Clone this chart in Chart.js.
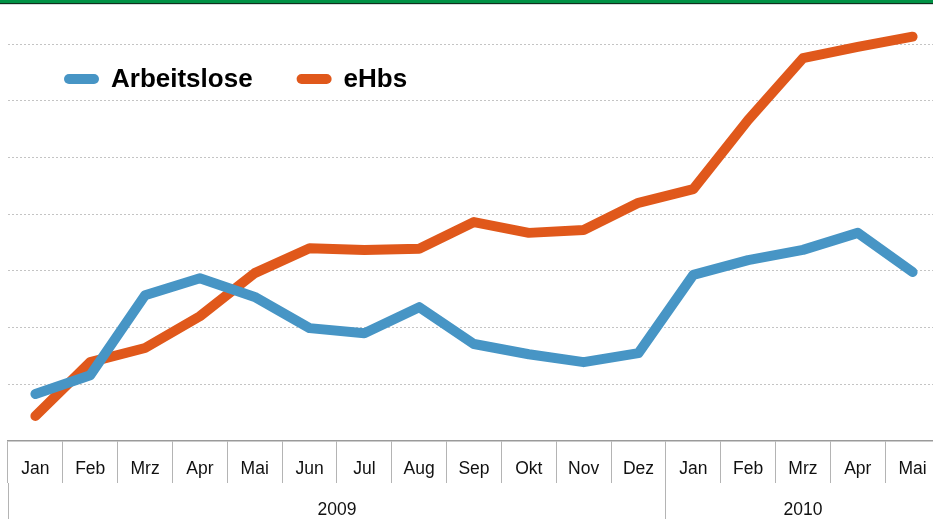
<!DOCTYPE html>
<html>
<head>
<meta charset="utf-8">
<script src="https://cdn.jsdelivr.net/npm/chart.js@4"></script>
<style>
  html, body { margin: 0; padding: 0; background: #fff; overflow: hidden; }
  #topbar {
    position: absolute; left: 0; top: 0; width: 933px; height: 3px;
    background: #009245; border-bottom: 1px solid #10301c;
    box-shadow: 0 1px 0 #d4dcdc; z-index: 2;
  }
  #wrap { position: absolute; left: 0; top: 0; width: 940px; height: 519px; }
</style>
</head>
<body>
<div id="topbar"></div>
<div id="wrap"><canvas id="chart"></canvas></div>
<script>
const months = ['Jan','Feb','Mrz','Apr','Mai','Jun','Jul','Aug','Sep','Okt','Nov','Dez',
                'Jan','Feb','Mrz','Apr','Mai'];
const years = ['2009', '2010'];
// how many months belong to each year
const yearSpans = [12, 5];

const arbeitslose = [0.83, 1.16, 2.57, 2.87, 2.54, 1.99, 1.90, 2.36, 1.71, 1.53, 1.39, 1.55,
                     2.93, 3.19, 3.37, 3.67, 2.98];
const ehbs = [0.44, 1.39, 1.64, 2.20, 2.96, 3.40, 3.37, 3.39, 3.86, 3.67, 3.72, 4.20,
              4.44, 5.66, 6.75, 6.95, 7.13];

const FONT = "'Liberation Sans', Arial, Helvetica, sans-serif";

// year group boundaries and label positions on the month index scale
const boundaries = [-0.5];
const yearCenters = [];
yearSpans.forEach(n => {
  const start = boundaries[boundaries.length - 1];
  yearCenters.push(start + n / 2);
  boundaries.push(start + n);
});

// one-row legend inside the plot, line swatches like the original
const inlineLegend = {
  id: 'inlineLegend',
  afterDraw(chart) {
    const ctx = chart.ctx;
    const area = chart.chartArea;
    let x = area.left + 56;
    const y = area.top + 69;
    ctx.save();
    ctx.font = 'bold 26px ' + FONT;
    ctx.textBaseline = 'middle';
    chart.data.datasets.forEach(ds => {
      ctx.strokeStyle = ds.borderColor;
      ctx.lineWidth = 10;
      ctx.lineCap = 'round';
      ctx.beginPath();
      ctx.moveTo(x + 5, y);
      ctx.lineTo(x + 30, y);
      ctx.stroke();
      ctx.fillStyle = '#000';
      ctx.fillText(ds.label, x + 47, y + 1);
      x += 47 + ctx.measureText(ds.label).width + 44;
    });
    ctx.restore();
  }
};

new Chart(document.getElementById('chart'), {
  type: 'line',
  data: {
    labels: months,
    datasets: [
      {
        label: 'Arbeitslose',
        data: arbeitslose,
        borderColor: '#4795c5',
        backgroundColor: '#4795c5',
        borderWidth: 10,
        borderCapStyle: 'round',
        borderJoinStyle: 'round',
        pointRadius: 0,
        tension: 0
      },
      {
        label: 'eHbs',
        data: ehbs,
        borderColor: '#e0581b',
        backgroundColor: '#e0581b',
        borderWidth: 10,
        borderCapStyle: 'round',
        borderJoinStyle: 'round',
        pointRadius: 0,
        tension: 0
      }
    ]
  },
  options: {
    responsive: true,
    maintainAspectRatio: false,
    animation: false,
    layout: { padding: { left: 8, top: 10, right: 0, bottom: 0 } },
    plugins: {
      tooltip: { enabled: false },
      legend: { display: false }
    },
    scales: {
      y: {
        min: 0,
        max: 7.6,
        border: { display: false, dash: [2, 2] },
        ticks: { display: false, stepSize: 1 },
        grid: {
          drawTicks: false,
          color: c => (c.tick && c.tick.value > 0 && Number.isInteger(c.tick.value)) ? '#c4c4c4' : 'rgba(0,0,0,0)'
        }
      },
      x: {
        type: 'category',
        position: 'bottom',
        offset: true,
        afterFit: s => { s.height = 42; },
        border: { display: true, color: '#9a9a9a', width: 1.5 },
        grid: { offset: true, drawOnChartArea: false, tickLength: 42, color: '#b4b4b4', lineWidth: 1 },
        ticks: {
          padding: -24,
          color: '#111',
          font: { family: FONT, size: 17.5 },
          maxRotation: 0,
          autoSkip: false
        }
      },
      x2: {
        type: 'linear',
        position: 'bottom',
        min: boundaries[0],
        max: boundaries[boundaries.length - 1],
        afterBuildTicks: s => {
          s.ticks = boundaries.concat(yearCenters).sort((a, b) => a - b).map(v => ({ value: v }));
        },
        afterFit: s => { s.height = 36; },
        border: { display: false },
        grid: {
          drawOnChartArea: false,
          tickLength: 36,
          lineWidth: 1,
          color: c => (c.tick && boundaries.includes(c.tick.value)) ? '#b4b4b4' : 'rgba(0,0,0,0)'
        },
        ticks: {
          padding: -19,
          color: '#111',
          font: { family: FONT, size: 17.5 },
          maxRotation: 0,
          autoSkip: false,
          callback: v => {
            const i = yearCenters.indexOf(v);
            return i >= 0 ? years[i] : '';
          }
        }
      }
    }
  },
  plugins: [inlineLegend]
});
</script>
</body>
</html>
